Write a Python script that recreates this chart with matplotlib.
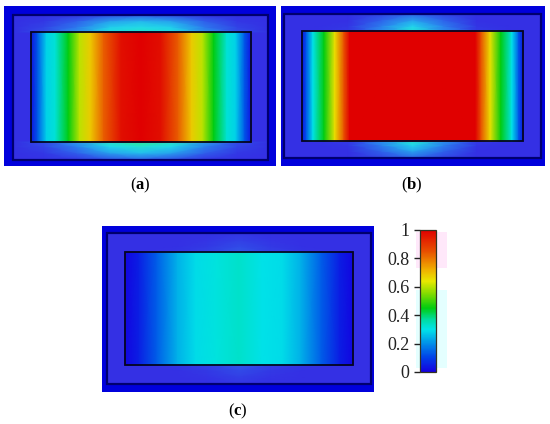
import matplotlib
matplotlib.use('Agg')
import matplotlib.pyplot as plt
import matplotlib.colors as colors
import matplotlib.cm as cm
import numpy as np

plt.rcParams['font.family'] = ['Liberation Serif', 'DejaVu Serif']
plt.rcParams['mathtext.fontset'] = 'custom'
plt.rcParams['mathtext.rm'] = 'Liberation Serif'
plt.rcParams['mathtext.bf'] = 'Liberation Serif:bold'

# colour scale
scale_pos = [0, 0.1, 0.2, 0.3, 0.37, 0.45, 0.55, 0.64, 0.72, 0.85, 1]
scale_rgb = ['#1400e0', '#0040e8', '#0090e8', '#00e4e8', '#00dca0', '#00cc10',
             '#80dc00', '#e8e800', '#f0b000', '#e85000', '#e00000']
ring_pos = [0, 0.35, 0.7, 1]
ring_rgb = ['#3430e4', '#2c78ee', '#20dcec', '#30e490']

# profile across the inner rectangle (fraction of width -> field value)
x_frac_a = [0, 0.03, 0.07, 0.11, 0.17, 0.22, 0.27, 0.33, 0.41, 0.5,
            0.59, 0.67, 0.73, 0.78, 0.83, 0.89, 0.93, 0.97, 1]
val_a = [0.03, 0.13, 0.28, 0.32, 0.45, 0.60, 0.68, 0.83, 0.97, 1,
         0.97, 0.83, 0.68, 0.60, 0.45, 0.32, 0.28, 0.13, 0.03]
x_frac_b = [0, 0.02, 0.05, 0.10, 0.148, 0.19, 0.215, 0.5, 0.785, 0.81, 0.852, 0.90, 0.95, 0.98, 1]
val_b = [0.03, 0.13, 0.30, 0.45, 0.65, 0.85, 1, 1, 1, 0.85, 0.65, 0.45, 0.30, 0.13, 0.03]
x_frac_c = [0, 0.06, 0.14, 0.23, 0.31, 0.40, 0.5, 0.60, 0.69, 0.77, 0.86, 0.94, 1]
val_c = [0.01, 0.05, 0.14, 0.24, 0.29, 0.31, 0.33, 0.30, 0.29, 0.24, 0.14, 0.05, 0.01]

# glow in the band between frame and rectangle, rows go frame -> rectangle
halo_x = [0, 0.12, 0.25, 0.38, 0.5, 0.62, 0.75, 0.88, 1]
halo_y = [0, 0.4, 0.75, 1]
halo_top_a = [[0, 0, 0.02, 0.14, 0.22, 0.14, 0.02, 0, 0],
              [0, 0.04, 0.24, 0.50, 0.58, 0.50, 0.24, 0.04, 0],
              [0, 0.10, 0.36, 0.66, 0.72, 0.66, 0.36, 0.10, 0],
              [0, 0.14, 0.44, 0.74, 0.82, 0.74, 0.44, 0.14, 0]]
halo_bot_a = [[0, 0, 0.02, 0.14, 0.22, 0.14, 0.02, 0, 0],
              [0, 0.04, 0.24, 0.50, 0.60, 0.50, 0.24, 0.04, 0],
              [0, 0.10, 0.38, 0.68, 0.78, 0.68, 0.38, 0.10, 0],
              [0, 0.14, 0.48, 0.84, 1, 0.84, 0.48, 0.14, 0]]
halo_top_b = [[0, 0, 0, 0.10, 0.25, 0.10, 0, 0, 0],
              [0, 0, 0, 0.25, 0.50, 0.25, 0, 0, 0],
              [0, 0, 0.03, 0.38, 0.68, 0.38, 0.03, 0, 0],
              [0, 0, 0.05, 0.42, 0.78, 0.42, 0.05, 0, 0]]
halo_bot_b = [[0, 0, 0, 0.10, 0.25, 0.10, 0, 0, 0],
              [0, 0, 0, 0.25, 0.50, 0.25, 0, 0, 0],
              [0, 0, 0.03, 0.38, 0.68, 0.38, 0.03, 0, 0],
              [0, 0, 0.05, 0.44, 0.80, 0.44, 0.05, 0, 0]]
halo_top_c = [[0, 0, 0, 0, 0.02, 0, 0, 0, 0],
              [0, 0, 0, 0.02, 0.08, 0.02, 0, 0, 0],
              [0, 0, 0, 0.05, 0.14, 0.05, 0, 0, 0],
              [0, 0, 0.02, 0.08, 0.18, 0.08, 0.02, 0, 0]]
halo_bot_c = halo_top_c

# colour bar ticks
bar_ticks = [0, 0.2, 0.4, 0.6, 0.8, 1]
bar_labels = ['0', '0.2', '0.4', '0.6', '0.8', '1']

captions = ['(a)', '(b)', '(c)']

W, H = 550, 424
fig = plt.figure(figsize=(W / 100, H / 100), dpi=100)
ax = fig.add_axes([0, 0, 1, 1])
ax.set_xlim(0, W)
ax.set_ylim(H, 0)
ax.axis('off')

field_cmap = colors.LinearSegmentedColormap.from_list('field', list(zip(scale_pos, scale_rgb)))
ring_cmap = colors.LinearSegmentedColormap.from_list('ring', list(zip(ring_pos, ring_rgb)))
norm = colors.Normalize(0, 1)


def rect(x0, y0, x1, y1, **kw):
    ax.add_patch(plt.Rectangle((x0, y0), x1 - x0, y1 - y0, **kw))


def draw_panel(outer, frame, inner, x_frac, val, halo_top, halo_bot):
    rect(*outer, fc='#0000dc', ec='none', zorder=1)
    rect(*frame, fc=ring_rgb[0], ec='none', zorder=2)

    # glow above and below the rectangle
    hx = frame[0] + np.array(halo_x) * (frame[2] - frame[0])
    hy = np.array(halo_y)
    ax.pcolormesh(hx, frame[1] + hy * (inner[1] - frame[1]), np.array(halo_top),
                  shading='gouraud', cmap=ring_cmap, norm=norm, zorder=3)
    ax.pcolormesh(hx, frame[3] - hy * (frame[3] - inner[3]), np.array(halo_bot),
                  shading='gouraud', cmap=ring_cmap, norm=norm, zorder=3)

    # field only varies across the width
    x = inner[0] + np.array(x_frac) * (inner[2] - inner[0])
    z = np.vstack([val, val])
    ax.pcolormesh(x, [inner[1], inner[3]], z, shading='gouraud',
                  cmap=field_cmap, norm=norm, zorder=4)
    rect(*frame, fc='none', ec='#00006e', lw=1.6, zorder=5)
    rect(*inner, fc='none', ec='#050520', lw=1.3, zorder=5)


draw_panel((4, 6, 276, 166), (13, 15, 268, 160), (31, 32, 251, 142),
           x_frac_a, val_a, halo_top_a, halo_bot_a)
draw_panel((281, 6, 545, 166), (284, 14, 541, 158), (302, 31, 523, 141),
           x_frac_b, val_b, halo_top_b, halo_bot_b)
draw_panel((102, 226, 374, 392), (107, 233, 371, 384), (125, 252, 353, 365),
           x_frac_c, val_c, halo_top_c, halo_bot_c)

for txt, x, y in zip(captions, [140, 412, 238], [185, 185, 411]):
    label = '$(\\mathbf{' + txt[1] + '})$'
    ax.text(x, y, label, ha='center', va='center', fontsize=12, color='k')

# faint halo round the colour bar
rect(416, 232, 447, 268, fc='#ffe8fa', ec='none', zorder=1)
rect(416, 290, 447, 368, fc='#e4ffff', ec='none', zorder=1)

cax = fig.add_axes([420 / W, 1 - 372 / H, 16 / W, 142 / H])
cax.patch.set_alpha(0)
cb = fig.colorbar(cm.ScalarMappable(norm=norm, cmap=field_cmap), cax=cax, ticks=bar_ticks)
cb.ax.yaxis.set_ticks_position('left')
cb.ax.set_yticklabels(bar_labels, fontsize=13, color='#222222')
cb.ax.tick_params(length=4, width=1, pad=3.5, color='#222222')
cb.outline.set_edgecolor('#333322')
cb.outline.set_linewidth(0.9)

fig.savefig('out.png', dpi=100)
